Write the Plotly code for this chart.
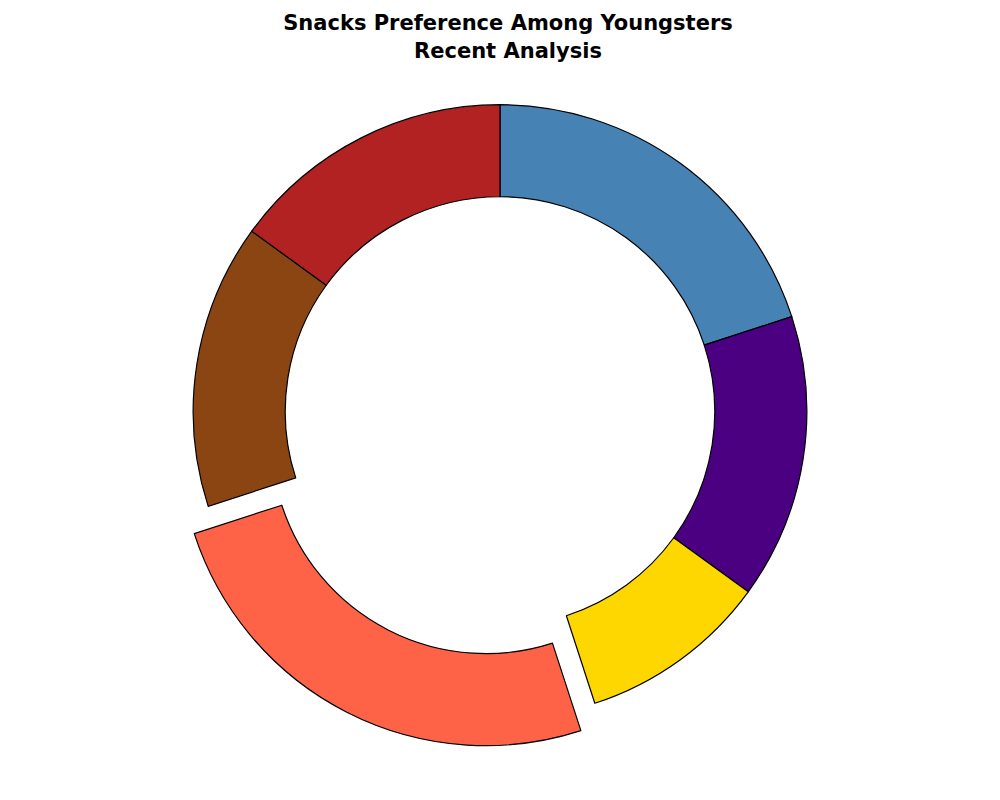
import plotly.graph_objects as go

snacks = ["Chips", "Candy", "Fruit", "Cookies", "Popcorn", "Nuts"]
shares = [20, 15, 10, 25, 15, 15]
colors = ["#4682B4", "#4B0082", "#FFD700", "#FF6347", "#8B4513", "#B22222"]
pulls = [0, 0, 0, 0.1, 0, 0]

fig = go.Figure(go.Pie(
    labels=snacks, values=shares, hole=0.7, sort=False, direction="clockwise",
    rotation=0, pull=pulls, textinfo="none",
    marker=dict(colors=colors, line=dict(color="black", width=1.2)),
    showlegend=False,
))

fig.update_layout(
    width=1000, height=800,
    title=dict(text="<b>Snacks Preference Among Youngsters<br>Recent Analysis</b>",
               x=0.5, y=0.972, xanchor="center",
               font=dict(family="DejaVu Sans", size=21, color="black")),
    margin=dict(l=142, r=158, t=66, b=59),
    paper_bgcolor="white",
)

fig.write_html("out.html")
